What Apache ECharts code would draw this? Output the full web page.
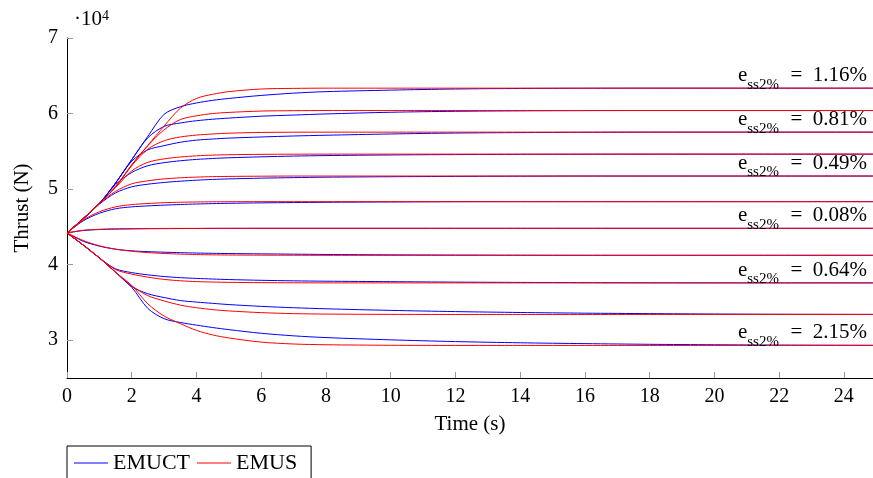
<!DOCTYPE html>
<html>
<head>
<meta charset="utf-8">
<title>Thrust</title>
<script src="https://cdn.jsdelivr.net/npm/echarts@6/dist/echarts.min.js"></script>
<style>
html, body { margin: 0; padding: 0; background: #fff; }
#panel-chart { width: 873px; height: 478px; }
</style>
</head>
<body>
<div id="panel-chart"></div>
<script>
// sample times (s)
var time = [0, 0.5, 1, 1.5, 2, 2.5, 3, 3.5, 4, 4.5, 5, 6, 7, 8, 10, 12, 14, 16, 18, 20, 22, 24.9];

// thrust in 10^4 N, EMUCT (blue), top level first
var emuct1  = [4.42, 4.61, 4.81, 5.08, 5.39, 5.70, 5.99, 6.09, 6.14, 6.175, 6.20, 6.24, 6.27, 6.29, 6.31, 6.325, 6.332, 6.335, 6.336, 6.336, 6.336, 6.336];
var emuct2  = [4.42, 4.61, 4.81, 5.08, 5.39, 5.68, 5.83, 5.875, 5.905, 5.925, 5.94, 5.965, 5.98, 5.995, 6.017, 6.03, 6.036, 6.039, 6.04, 6.04, 6.04, 6.04];
var emuct3  = [4.42, 4.61, 4.81, 5.08, 5.37, 5.52, 5.575, 5.62, 5.648, 5.663, 5.675, 5.69, 5.703, 5.713, 5.73, 5.742, 5.748, 5.752, 5.754, 5.754, 5.754, 5.754];
var emuct4  = [4.42, 4.61, 4.81, 5.06, 5.22, 5.31, 5.35, 5.375, 5.393, 5.405, 5.415, 5.427, 5.437, 5.444, 5.452, 5.457, 5.46, 5.462, 5.463, 5.463, 5.463, 5.463];
var emuct5  = [4.42, 4.60, 4.80, 4.95, 5.03, 5.065, 5.088, 5.105, 5.118, 5.128, 5.135, 5.145, 5.152, 5.158, 5.164, 5.168, 5.171, 5.173, 5.173, 5.173, 5.173, 5.173];
var emuct6  = [4.42, 4.58, 4.68, 4.74, 4.765, 4.778, 4.788, 4.796, 4.803, 4.808, 4.812, 4.818, 4.822, 4.826, 4.83, 4.833, 4.834, 4.834, 4.834, 4.834, 4.834, 4.834];
var emuct7  = [4.42, 4.452, 4.465, 4.471, 4.474, 4.476, 4.477, 4.478, 4.479, 4.48, 4.48, 4.481, 4.481, 4.481, 4.481, 4.481, 4.481, 4.481, 4.481, 4.481, 4.481, 4.481];
var emuct8  = [4.42, 4.31, 4.245, 4.205, 4.183, 4.172, 4.165, 4.159, 4.154, 4.15, 4.147, 4.143, 4.139, 4.135, 4.13, 4.127, 4.125, 4.124, 4.124, 4.124, 4.124, 4.124];
var emuct9  = [4.42, 4.26, 4.09, 3.945, 3.895, 3.865, 3.843, 3.828, 3.818, 3.81, 3.803, 3.793, 3.786, 3.781, 3.775, 3.769, 3.765, 3.762, 3.76, 3.759, 3.759, 3.759];
var emuct10 = [4.42, 4.26, 4.09, 3.90, 3.71, 3.615, 3.565, 3.525, 3.505, 3.488, 3.472, 3.448, 3.43, 3.416, 3.395, 3.379, 3.367, 3.358, 3.352, 3.347, 3.344, 3.342];
var emuct11 = [4.42, 4.26, 4.09, 3.90, 3.70, 3.42, 3.285, 3.235, 3.20, 3.168, 3.14, 3.092, 3.058, 3.035, 3.005, 2.982, 2.966, 2.955, 2.946, 2.94, 2.936, 2.933];

// thrust in 10^4 N, EMUS (red)
var emus1  = [4.42, 4.61, 4.81, 5.03, 5.32, 5.58, 5.835, 6.07, 6.20, 6.255, 6.29, 6.325, 6.333, 6.336, 6.336, 6.336, 6.336, 6.336, 6.336, 6.336, 6.336, 6.336];
var emus2  = [4.42, 4.61, 4.81, 5.03, 5.32, 5.575, 5.785, 5.92, 5.97, 6.00, 6.015, 6.033, 6.038, 6.04, 6.04, 6.04, 6.04, 6.04, 6.04, 6.04, 6.04, 6.04];
var emus3  = [4.42, 4.61, 4.81, 5.03, 5.31, 5.53, 5.64, 5.69, 5.715, 5.73, 5.74, 5.75, 5.753, 5.754, 5.754, 5.754, 5.754, 5.754, 5.754, 5.754, 5.754, 5.754];
var emus4  = [4.42, 4.61, 4.81, 5.02, 5.24, 5.355, 5.40, 5.425, 5.44, 5.45, 5.455, 5.46, 5.462, 5.463, 5.463, 5.463, 5.463, 5.463, 5.463, 5.463, 5.463, 5.463];
var emus5  = [4.42, 4.61, 4.81, 4.97, 5.07, 5.11, 5.135, 5.15, 5.159, 5.165, 5.168, 5.171, 5.173, 5.173, 5.173, 5.173, 5.173, 5.173, 5.173, 5.173, 5.173, 5.173];
var emus6  = [4.42, 4.59, 4.70, 4.765, 4.795, 4.81, 4.82, 4.826, 4.83, 4.832, 4.833, 4.834, 4.834, 4.834, 4.834, 4.834, 4.834, 4.834, 4.834, 4.834, 4.834, 4.834];
var emus7  = [4.42, 4.455, 4.468, 4.473, 4.476, 4.478, 4.479, 4.48, 4.48, 4.481, 4.481, 4.481, 4.481, 4.481, 4.481, 4.481, 4.481, 4.481, 4.481, 4.481, 4.481, 4.481];
var emus8  = [4.42, 4.32, 4.25, 4.205, 4.178, 4.16, 4.148, 4.14, 4.134, 4.13, 4.128, 4.126, 4.125, 4.124, 4.124, 4.124, 4.124, 4.124, 4.124, 4.124, 4.124, 4.124];
var emus9  = [4.42, 4.26, 4.09, 3.935, 3.875, 3.835, 3.805, 3.787, 3.776, 3.77, 3.766, 3.762, 3.76, 3.759, 3.759, 3.759, 3.759, 3.759, 3.759, 3.759, 3.759, 3.759];
var emus10 = [4.42, 4.26, 4.09, 3.90, 3.72, 3.59, 3.52, 3.465, 3.43, 3.405, 3.388, 3.365, 3.352, 3.346, 3.342, 3.341, 3.341, 3.341, 3.341, 3.341, 3.341, 3.341];
var emus11 = [4.42, 4.26, 4.09, 3.90, 3.725, 3.48, 3.32, 3.22, 3.13, 3.07, 3.03, 2.975, 2.95, 2.94, 2.933, 2.931, 2.931, 2.931, 2.931, 2.931, 2.931, 2.931];

var emuct = [emuct1, emuct2, emuct3, emuct4, emuct5, emuct6, emuct7, emuct8, emuct9, emuct10, emuct11];
var emus = [emus1, emus2, emus3, emus4, emus5, emus6, emus7, emus8, emus9, emus10, emus11];

// steady-state error labels, and the EMUS curve each one sits on
var errText = ['1.16%', '0.81%', '0.49%', '0.08%', '0.64%', '2.15%'];
var errCurve = [0, 2, 4, 6, 8, 10];

var xTicks = [0, 2, 4, 6, 8, 10, 12, 14, 16, 18, 20, 22, 24];
var yTicks = [3, 4, 5, 6, 7];

var serif = 'Liberation Serif';

var dom = document.getElementById("panel-chart");
var myChart = echarts.init(dom);

function pairs(vals) {
    var out = [];
    for (var i = 0; i < time.length; i++) {
        out.push([time[i], vals[i]]);
    }
    return out;
}

function lineSeries(name, color, vals) {
    return {
        name: name,
        type: 'line',
        data: pairs(vals),
        symbol: 'none',
        smooth: 0.3,
        lineStyle: { color: color, width: 1 },
        itemStyle: { color: color },
        emphasis: { disabled: true }
    };
}

var series = [];
emuct.forEach(function (v) { series.push(lineSeries('EMUCT', '#0000ff', v)); });
emus.forEach(function (v) { series.push(lineSeries('EMUS', '#ff0000', v)); });

var option = {
    animation: false,
    backgroundColor: '#fff',
    grid: { left: 67, right: 0, top: 38, bottom: 100, containLabel: false },
    xAxis: {
        type: 'value',
        min: 0,
        max: 24.9,
        name: 'Time (s)',
        nameLocation: 'middle',
        nameGap: 36,
        nameTextStyle: { fontFamily: serif, fontSize: 21, color: '#000' },
        axisLine: { lineStyle: { color: '#000', width: 1 } },
        axisTick: { inside: true, length: 6, lineStyle: { color: '#999' }, customValues: xTicks },
        axisLabel: { customValues: xTicks, margin: 9, fontFamily: serif, fontSize: 20, color: '#000' },
        splitLine: { show: false }
    },
    yAxis: {
        type: 'value',
        min: 2.5,
        max: 7,
        name: 'Thrust (N)',
        nameLocation: 'middle',
        nameGap: 34,
        nameTextStyle: { fontFamily: serif, fontSize: 21, color: '#000' },
        axisLine: { show: true, lineStyle: { color: '#000', width: 1 } },
        axisTick: { show: true, inside: true, length: 6, lineStyle: { color: '#999' }, customValues: yTicks },
        axisLabel: { customValues: yTicks, margin: 9, fontFamily: serif, fontSize: 20, color: '#000' },
        splitLine: { show: false }
    },
    legend: {
        data: ['EMUCT', 'EMUS'],
        left: 67,
        top: 446,
        orient: 'horizontal',
        padding: [6, 14, 6, 7],
        itemGap: 7,
        icon: 'rect',
        itemWidth: 34,
        itemHeight: 1,
        borderColor: '#000',
        borderWidth: 1,
        borderRadius: 0,
        selectedMode: false,
        textStyle: { fontFamily: serif, fontSize: 22, color: '#000' }
    },
    series: series
};

if (option && typeof option === "object") {
    myChart.setOption(option, true);
}

// annotations placed from the axis scales
var graphics = [{
    type: 'text',
    x: 74,
    y: 9,
    style: {
        text: '{m|\u00b710}{p|4}',
        rich: {
            m: { fontFamily: serif, fontSize: 21, lineHeight: 21, verticalAlign: 'top', fill: '#000' },
            p: { fontFamily: serif, fontSize: 14, lineHeight: 14, verticalAlign: 'top', fill: '#000' }
        }
    }
}];

errText.forEach(function (txt, k) {
    var vals = emus[errCurve[k]];
    var pt = myChart.convertToPixel({ gridIndex: 0 }, [time[time.length - 1], vals[vals.length - 1]]);
    graphics.push({
        type: 'text',
        x: pt[0] - 6,
        y: pt[1] - 23,
        z: 10,
        style: {
            text: '{m|e}{s|ss2%}{m|\u2002=\u2002' + txt + '}',
            align: 'right',
            verticalAlign: 'top',
            rich: {
                m: { fontFamily: serif, fontSize: 21, lineHeight: 22, verticalAlign: 'top', fill: '#000' },
                s: { fontFamily: serif, fontSize: 15, lineHeight: 16, verticalAlign: 'top', padding: [12, 1, 0, 0], fill: '#000' }
            }
        }
    });
});

myChart.setOption({ graphic: graphics });
</script>
</body>
</html>
